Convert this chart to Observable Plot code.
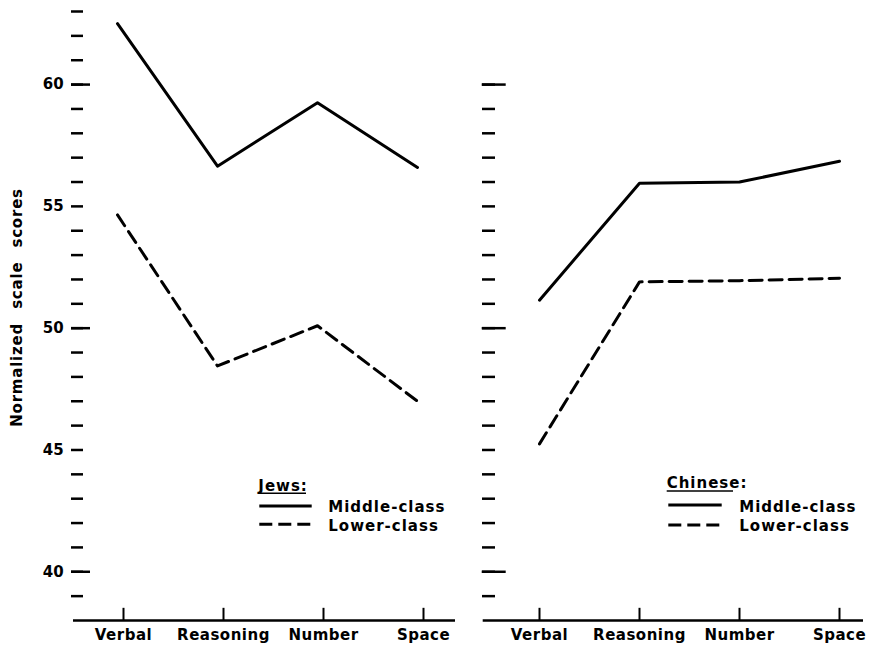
<!DOCTYPE html>
<html><head><meta charset="utf-8">
<script src="https://cdn.jsdelivr.net/npm/d3@7"></script>
<script src="https://cdn.jsdelivr.net/npm/@observablehq/plot@0.6"></script>
<style>
body{margin:0;background:#fff;}
#wrap{position:relative;width:870px;height:645px;overflow:hidden;background:#fff;}
#left{position:absolute;left:0;top:0}
#right{position:absolute;left:470px;top:0}
#legend{position:absolute;left:0;top:0}
svg text{font-family:"DejaVu Sans",sans-serif;font-weight:bold;fill:#000;}
g[aria-label="x-axis tick label"] text{letter-spacing:0.5px;}
#legend text{font-size:15px;letter-spacing:1px;}
</style>
</head><body>
<div id="wrap"><div id="left"></div><div id="right"></div><svg id="legend" width="870" height="645"></svg></div>
<script>
const categories = ["Verbal", "Reasoning", "Number", "Space"];
const jewsMiddle = [62.5, 56.65, 59.25, 56.6];
const jewsLower = [54.65, 48.45, 50.1, 47.0];
const chineseMiddle = [51.15, 55.95, 56.0, 56.85];
const chineseLower = [45.25, 51.9, 51.95, 52.05];
const leftTicks = [39,40,41,42,43,44,45,46,47,48,49,50,51,52,53,54,55,56,57,58,59,60,61,62,63];
const rightTicks = [39,40,41,42,43,44,45,46,47,48,49,50,51,52,53,54,55,56,57,58,59,60];
const labeledTicks = [40, 45, 50, 55, 60];
const longTicks = [40, 50, 60];
const yTitle = "Normalized scale scores";
const legendLabels = ["Middle-class", "Lower-class"];
const groups = ["Jews:", "Chinese:"];

const rows = (vals) => categories.map((c, i) => ({test: c, score: vals[i]}));

function panel(o) {
  const marks = [
    Plot.axisY(o.ticks, {tickSize: o.minor, dx: o.minorDx, tickPadding: 7.8, strokeWidth: 2.5, fontSize: 15,
      tickFormat: d => (o.labels && labeledTicks.includes(d)) ? String(d) : "", label: null}),
    Plot.axisY(longTicks, {tickSize: o.major, dx: o.majorDx, strokeWidth: 2.5, tickFormat: () => "", label: null}),
    Plot.axisX({tickSize: 0, tickPadding: 8.5, fontSize: 15, label: null}),
    Plot.ruleY([38], {strokeWidth: 2.5}),
    Plot.ruleX(categories, {x: d => d, y1: 38, y2: 38.5, strokeWidth: 2}),
    Plot.line(rows(o.middle), {x: "test", y: "score", strokeWidth: 3, dx: o.lineDx}),
    Plot.line(rows(o.lower), {x: "test", y: "score", strokeWidth: 3, dx: o.lineDx, strokeDasharray: "13,7"})
  ];
  if (o.title) marks.push(Plot.text([yTitle], {text: d => d, frameAnchor: "left", textAnchor: "middle", rotate: -90,
    dx: -56.5, dy: -8.5, fontSize: 15}));
  const svg = Plot.plot({
    width: o.width, height: 645,
    marginTop: 11, marginBottom: 25, marginLeft: o.marginLeft, marginRight: o.marginRight,
    x: {type: "point", domain: categories, padding: o.padding, align: o.align},
    y: {domain: [38, 63]},
    style: {background: "transparent", overflow: "visible"},
    marks
  });
  d3.select(svg).selectAll("text").filter(function() { return this.textContent === yTitle; })
    .style("letter-spacing", "0.8px").style("word-spacing", "8px").style("font-size", "15px");
  return svg;
}

document.getElementById("left").append(panel({
  width: 470, marginLeft: 73, marginRight: 15, padding: 0.41, align: 0.613,
  ticks: leftTicks, minor: 12, minorDx: 10, major: 19, majorDx: 17, labels: true,
  middle: jewsMiddle, lower: jewsLower, lineDx: -6, title: true
}));
document.getElementById("right").append(panel({
  width: 400, marginLeft: 12.7, marginRight: 7, padding: 0.394, align: 0.695,
  ticks: rightTicks, minor: 13, minorDx: 12.3, major: 24, majorDx: 23, labels: false,
  middle: chineseMiddle, lower: chineseLower, lineDx: 0, title: false
}));

// legends
const lg = d3.select("#legend");
const legendSpecs = [
  {group: groups[0], gx: 258.3, gy: 490.7, ux: 306, uy: 493.3, lx1: 259.3, lx2: 311.7, ly: [506, 524.3], tx: 328.3, ty: [511.7, 530.7]},
  {group: groups[1], gx: 666.7, gy: 488.3, ux: 733, uy: 491, lx1: 668.3, lx2: 721.7, ly: [505, 525], tx: 739.3, ty: [511.7, 530.7]}
];
legendSpecs.forEach(s => {
  lg.append("text").attr("x", s.gx).attr("y", s.gy).text(s.group);
  lg.append("line").attr("x1", s.gx).attr("x2", s.ux).attr("y1", s.uy).attr("y2", s.uy)
    .attr("stroke", "#000").attr("stroke-width", 1.6);
  legendLabels.forEach((lab, i) => {
    lg.append("line").attr("x1", s.lx1).attr("x2", s.lx2).attr("y1", s.ly[i]).attr("y2", s.ly[i])
      .attr("stroke", "#000").attr("stroke-width", 3)
      .attr("stroke-dasharray", i === 1 ? "13,6" : null);
    lg.append("text").attr("x", s.tx).attr("y", s.ty[i]).text(lab);
  });
});
</script>
</body></html>
